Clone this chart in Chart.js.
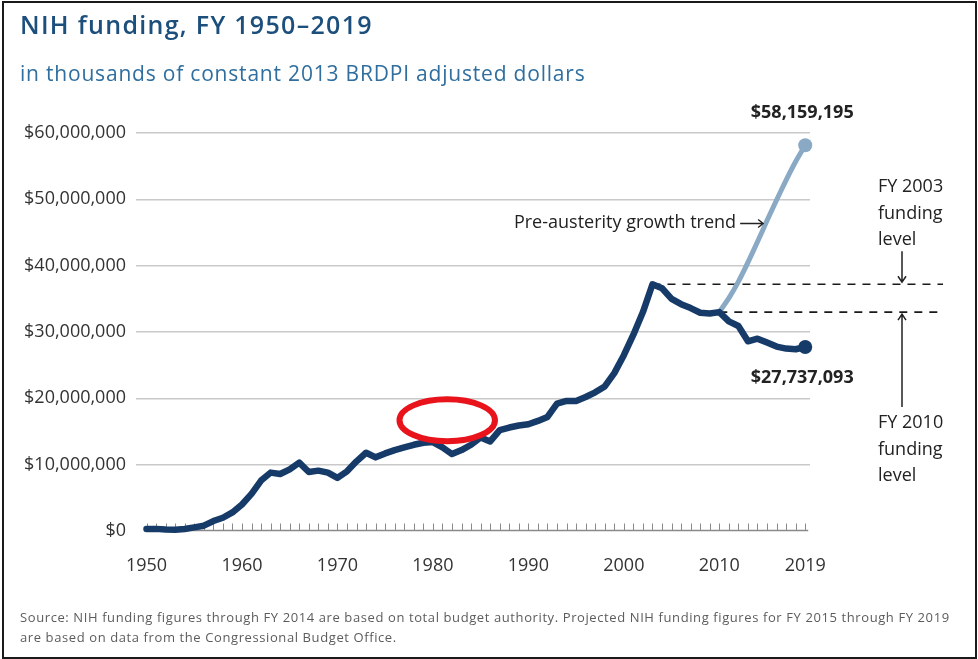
<!DOCTYPE html>
<html>
<head>
<meta charset="utf-8">
<script src="https://cdn.jsdelivr.net/npm/chart.js@4/dist/chart.umd.min.js"></script>
<style>
    body { margin: 0; background: #fff; }
    #frame { position: absolute; left: 2px; top: 1px; width: 971px; height: 654px; border: 2px solid #1a1a1a; }
    #title { position: absolute; left: 20px; top: 7px; margin: 0; font: 600 25px "Open Sans", sans-serif; letter-spacing: 1.3px; color: #1d4f7c; white-space: nowrap; }
    #subtitle { position: absolute; left: 20px; top: 59px; font: 400 21px "Open Sans", sans-serif; letter-spacing: 0.8px; color: #2f6e9e; white-space: nowrap; }
    #source { position: absolute; left: 20px; top: 607px; font: 400 13px "Open Sans", sans-serif; letter-spacing: 0.6px; line-height: 20px; color: #5c5c5c; white-space: nowrap; }
    #chartBox { position: absolute; left: 0; top: 0; width: 978px; height: 659px; }
</style>
</head>
<body>
<div id="frame"></div>
<div id="chartBox"><canvas id="nihChart" width="978" height="659"></canvas></div>
<h1 id="title">NIH funding, FY 1950–2019</h1>
<div id="subtitle">in thousands of constant 2013 BRDPI adjusted dollars</div>
<div id="source">Source: NIH funding figures through FY 2014 are based on total budget authority. Projected NIH funding figures for FY 2015 through FY 2019<br>are based on data from the Congressional Budget Office.</div>

<script>
// ===== DATA =====
const years = [
    1950, 1951, 1952, 1953, 1954, 1955, 1956, 1957, 1958, 1959,
    1960, 1961, 1962, 1963, 1964, 1965, 1966, 1967, 1968, 1969,
    1970, 1971, 1972, 1973, 1974, 1975, 1976, 1977, 1978, 1979,
    1980, 1981, 1982, 1983, 1984, 1985, 1986, 1987, 1988, 1989,
    1990, 1991, 1992, 1993, 1994, 1995, 1996, 1997, 1998, 1999,
    2000, 2001, 2002, 2003, 2004, 2005, 2006, 2007, 2008, 2009,
    2010, 2011, 2012, 2013, 2014, 2015, 2016, 2017, 2018, 2019
];

// thousands of constant 2013 dollars
const funding = [
    300000, 320000, 220000, 180000, 300000, 550000, 800000, 1500000, 2000000, 2800000,
    4000000, 5600000, 7600000, 8800000, 8600000, 9300000, 10300000, 8900000, 9100000, 8800000,
    8000000, 9000000, 10500000, 11800000, 11100000, 11700000, 12200000, 12600000, 13000000, 13300000,
    13400000, 12600000, 11600000, 12200000, 13000000, 14100000, 13500000, 15200000, 15600000, 15900000,
    16100000, 16600000, 17200000, 19200000, 19600000, 19600000, 20200000, 20900000, 21800000, 23800000,
    26500000, 29600000, 33000000, 37200000, 36600000, 35000000, 34200000, 33600000, 32900000, 32800000,
    33000000, 31600000, 30900000, 28600000, 29000000, 28400000, 27800000, 27500000, 27400000, 27737093
];

const trendYears = [2010, 2011, 2012, 2013, 2014, 2015, 2016, 2017, 2018, 2019];
const trendValues = [33000000, 35100000, 37600000, 40500000, 43600000, 46800000, 49900000, 52900000, 55700000, 58159195];

const xTickLabels = [1950, 1960, 1970, 1980, 1990, 2000, 2010, 2019];
const yTicks = [0, 10000000, 20000000, 30000000, 40000000, 50000000, 60000000];

const FONT = "'Open Sans', sans-serif";
const NAVY = '#173b69';
const TREND = '#89a9c5';

function money(v) {
    return '$' + Math.round(v).toLocaleString('en-US');
}

// ===== ANNOTATIONS =====
const notesPlugin = {
    id: 'notes',
    beforeDatasetsDraw(chart) {
        const { ctx, scales: { x, y }, chartArea } = chart;
        const y03 = y.getPixelForValue(funding[years.indexOf(2003)]);
        const y10 = y.getPixelForValue(funding[years.indexOf(2010)]);
        const xEnd = chartArea.right + 133;

        // funding level guides
        ctx.save();
        ctx.strokeStyle = '#1a1a1a';
        ctx.lineWidth = 1.6;
        ctx.setLineDash([8, 7]);
        ctx.beginPath();
        ctx.moveTo(x.getPixelForValue(2003), y03);
        ctx.lineTo(xEnd, y03);
        ctx.moveTo(x.getPixelForValue(2010), y10);
        ctx.lineTo(xEnd, y10);
        ctx.stroke();
        ctx.restore();
    },
    afterDatasetsDraw(chart) {
        const { ctx, scales: { x, y }, chartArea } = chart;
        const last = years.length - 1;
        const y03 = y.getPixelForValue(funding[years.indexOf(2003)]);
        const y10 = y.getPixelForValue(funding[years.indexOf(2010)]);
        const xEnd = x.getPixelForValue(years[last]);
        const base = Math.round(y.getPixelForValue(0)) - 0.5;

        // axis line with yearly ticks standing on it, slid under the data line
        ctx.save();
        ctx.globalCompositeOperation = 'destination-over';
        ctx.strokeStyle = '#8a8a8a';
        ctx.lineWidth = 1;
        ctx.beginPath();
        years.forEach(v => {
            const px = Math.round(x.getPixelForValue(v)) + 0.5;
            ctx.moveTo(px, base);
            ctx.lineTo(px, base - 7);
        });
        ctx.stroke();
        ctx.lineWidth = 1.5;
        ctx.beginPath();
        ctx.moveTo(x.getPixelForValue(years[0]) - 1, base);
        ctx.lineTo(xEnd + 3, base);
        ctx.stroke();
        ctx.restore();

        ctx.save();
        ctx.fillStyle = '#222';
        ctx.strokeStyle = '#222';
        ctx.textBaseline = 'middle';

        // endpoint values
        ctx.font = '700 18px ' + FONT;
        ctx.textAlign = 'center';
        ctx.fillText(money(trendValues[trendValues.length - 1]), xEnd - 3,
            y.getPixelForValue(trendValues[trendValues.length - 1]) - 32);
        ctx.fillText(money(funding[last]), xEnd - 3, y.getPixelForValue(funding[last]) + 31);

        // trend label with long arrow
        const lx = x.getPixelForValue(2014.8);
        const ly = y.getPixelForValue(46500000);
        ctx.font = '400 18px ' + FONT;
        ctx.textAlign = 'right';
        ctx.fillText('Pre-austerity growth trend', lx - 29, ly);
        ctx.lineWidth = 1.4;
        ctx.beginPath();
        ctx.moveTo(lx - 25, ly + 1);
        ctx.lineTo(lx - 2, ly + 1);
        ctx.moveTo(lx - 7, ly - 3);
        ctx.lineTo(lx - 2, ly + 1);
        ctx.lineTo(lx - 7, ly + 5);
        ctx.stroke();

        // side notes
        const tx = chartArea.right + 68;
        const ax = chartArea.right + 92;
        ctx.font = '400 18px ' + FONT;
        ctx.textAlign = 'left';
        ['FY 2003', 'funding', 'level'].forEach((t, k) => ctx.fillText(t, tx, y03 - 97 + k * 26.5));
        ['FY 2010', 'funding', 'level'].forEach((t, k) => ctx.fillText(t, tx, y10 + 111 + k * 26.5));

        ctx.lineWidth = 1.5;
        ctx.beginPath();
        ctx.moveTo(ax, y03 - 33);
        ctx.lineTo(ax, y03 - 2);
        ctx.moveTo(ax - 4, y03 - 8);
        ctx.lineTo(ax, y03 - 2);
        ctx.lineTo(ax + 4, y03 - 8);
        ctx.moveTo(ax, y10 + 95);
        ctx.lineTo(ax, y10 + 2);
        ctx.moveTo(ax - 4, y10 + 8);
        ctx.lineTo(ax, y10 + 2);
        ctx.lineTo(ax + 4, y10 + 8);
        ctx.stroke();

        // red highlight ring around the early-1980s stretch
        const cx = x.getPixelForValue(1981.5);
        const cy = y.getPixelForValue(16700000);
        const rx = x.getPixelForValue(1981.5 + 5) - cx;
        ctx.strokeStyle = '#e8131b';
        ctx.lineWidth = 6;
        ctx.beginPath();
        ctx.ellipse(cx, cy, rx, 21, 0, 0, Math.PI * 2);
        ctx.stroke();
        ctx.restore();
    }
};

// ===== CHART =====
const ctx = document.getElementById('nihChart');

new Chart(ctx, {
    type: 'line',
    data: {
        datasets: [
            {
                label: 'NIH funding',
                data: years.map((yr, i) => ({ x: yr, y: funding[i] })),
                borderColor: NAVY,
                backgroundColor: NAVY,
                borderWidth: 6.5,
                borderJoinStyle: 'round',
                borderCapStyle: 'round',
                pointRadius: c => c.dataIndex === years.length - 1 ? 7 : 0,
                pointBackgroundColor: NAVY,
                pointBorderWidth: 0,
                tension: 0,
                clip: false,
                order: 1
            },
            {
                label: 'Pre-austerity growth trend',
                data: trendYears.map((yr, i) => ({ x: yr, y: trendValues[i] })),
                borderColor: TREND,
                backgroundColor: TREND,
                borderWidth: 5,
                borderCapStyle: 'round',
                pointRadius: c => c.dataIndex === trendYears.length - 1 ? 7 : 0,
                pointBackgroundColor: TREND,
                pointBorderWidth: 0,
                tension: 0.15,
                clip: false,
                order: 2
            }
        ]
    },
    options: {
        responsive: false,
        animation: false,
        layout: { padding: { top: 133, right: 168, bottom: 78, left: 0 } },
        plugins: {
            legend: { display: false },
            tooltip: { enabled: false }
        },
        scales: {
            x: {
                type: 'linear',
                min: 1948.9,
                max: 2019.5,
                border: { display: false },
                grid: { display: false },
                afterBuildTicks: s => { s.ticks = years.map(v => ({ value: v })); },
                ticks: {
                    autoSkip: false,
                    maxRotation: 0,
                    padding: 16,
                    color: '#333',
                    font: { family: FONT, size: 18 },
                    callback: v => xTickLabels.includes(v) ? String(v) : ''
                },
                afterFit: s => { s.height = 50; }
            },
            y: {
                min: yTicks[0],
                max: yTicks[yTicks.length - 1],
                border: { display: false },
                grid: {
                    color: c => c.tick.value === 0 ? 'rgba(0,0,0,0)' : '#c9c9c9',
                    lineWidth: 1.5,
                    drawTicks: false
                },
                afterBuildTicks: s => { s.ticks = yTicks.map(v => ({ value: v })); },
                ticks: {
                    padding: 10,
                    color: '#333',
                    font: { family: FONT, size: 18 },
                    callback: v => money(v)
                },
                afterFit: s => { s.width = 136; }
            }
        }
    },
    plugins: [notesPlugin]
});
</script>
</body>
</html>
